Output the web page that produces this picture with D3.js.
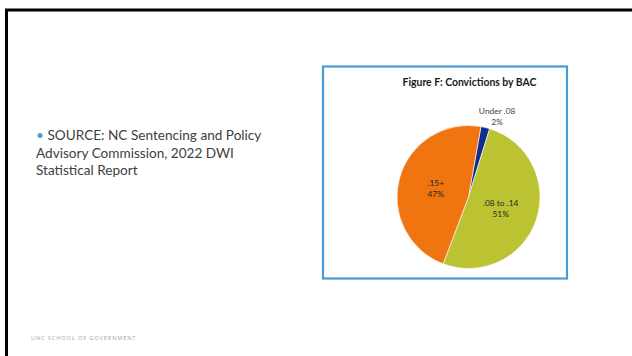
<!DOCTYPE html>
<html>
<head>
<meta charset="utf-8">
<script src="https://cdn.jsdelivr.net/npm/d3@7"></script>
<style>
  html, body { margin: 0; padding: 0; background: #fff; }
  svg { display: block; }
</style>
</head>
<body>
<div id="slide"></div>
<script>
// chart data
const categories = ["Under .08", ".08 to .14", ".15+"];
const values = [2, 51, 47];
const colors = ["#0f2f8f", "#bcc332", "#f0740f"];

const width = 632, height = 356;

const svg = d3.select("#slide")
  .append("svg")
  .attr("width", width)
  .attr("height", height);

// slide edge (top + left dark border)
svg.append("path")
  .attr("d", `M6.5,${height} V10 H${width}`)
  .attr("fill", "none")
  .attr("stroke", "#000")
  .attr("stroke-width", 3);

// source text on the left
const src = svg.append("text")
  .attr("font-family", "Lato, 'Open Sans', sans-serif")
  .attr("font-size", 13.6)
  .attr("fill", "#404040");
src.append("tspan").attr("x", 36).attr("y", 140)
  .attr("fill", "#4a9fd8").text("•");
src.append("tspan").attr("x", 47.5).attr("y", 140)
  .text("SOURCE: NC Sentencing and Policy");
src.append("tspan").attr("x", 36).attr("y", 157.5)
  .text("Advisory Commission, 2022 DWI");
src.append("tspan").attr("x", 36).attr("y", 175)
  .text("Statistical Report");

// footer
svg.append("text")
  .attr("x", 31).attr("y", 339.5)
  .attr("font-family", "'Open Sans', sans-serif")
  .attr("font-size", 5.6)
  .attr("letter-spacing", 0.9)
  .attr("fill", "#a6a6a6")
  .text("UNC SCHOOL OF GOVERNMENT");

// chart frame
svg.append("rect")
  .attr("x", 323).attr("y", 66.5)
  .attr("width", 244).attr("height", 212)
  .attr("fill", "#fff")
  .attr("stroke", "#4a9ad6")
  .attr("stroke-width", 2.2);

svg.append("text")
  .attr("x", 469.5).attr("y", 85.5)
  .attr("text-anchor", "middle")
  .attr("font-family", "Lato, sans-serif")
  .attr("font-weight", "bold")
  .attr("font-size", 10.4)
  .attr("fill", "#1a1a1a")
  .text("Figure F: Convictions by BAC");

// pie
const cx = 468.5, cy = 197, r = 71.5;
const startDeg = 10;

const pie = d3.pie()
  .sort(null)
  .startAngle(startDeg * Math.PI / 180)
  .endAngle((startDeg + 360) * Math.PI / 180);

const arcs = pie(values);
const arc = d3.arc().innerRadius(0).outerRadius(r);
const labelArc = d3.arc().innerRadius(34).outerRadius(34);
const outerArc = d3.arc().innerRadius(r + 12).outerRadius(r + 12);

const g = svg.append("g").attr("transform", `translate(${cx},${cy})`);

g.selectAll("path.slice")
  .data(arcs)
  .enter().append("path")
    .attr("class", "slice")
    .attr("d", arc)
    .attr("fill", (d, i) => colors[i])
    .attr("stroke", "#fff")
    .attr("stroke-width", 0.6);

const labels = g.selectAll("g.lbl")
  .data(arcs)
  .enter().append("g")
    .attr("class", "lbl")
    .attr("transform", (d, i) => {
      // small slice gets its label outside the pie, nudged right
      if (values[i] < 5) {
        const [x, y] = outerArc.centroid(d);
        return `translate(${x + 9},${y})`;
      }
      const [x, y] = labelArc.centroid(d);
      return `translate(${x},${y})`;
    })
    .attr("text-anchor", "middle")
    .attr("font-family", "Lato, sans-serif")
    .attr("font-size", 8.4);

labels.append("text")
  .attr("y", -2)
  .attr("fill", (d, i) => values[i] < 5 ? "#404040" : "#262626")
  .text((d, i) => categories[i]);

labels.append("text")
  .attr("y", 9)
  .attr("fill", (d, i) => values[i] < 5 ? "#404040" : "#262626")
  .text((d, i) => values[i] + "%");
</script>
</body>
</html>
